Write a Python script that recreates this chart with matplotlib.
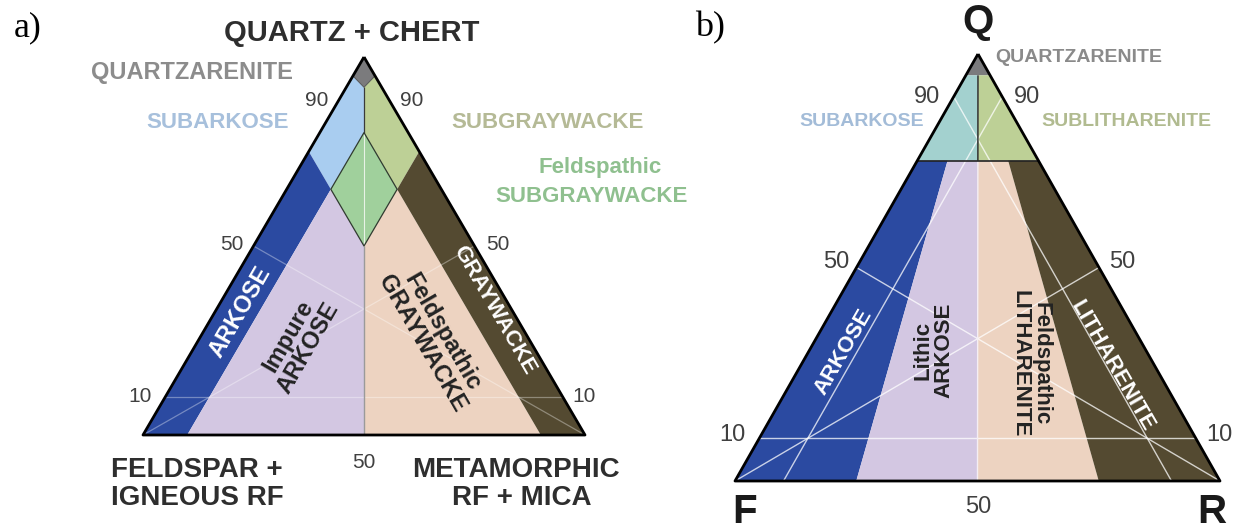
import numpy as np
import matplotlib
matplotlib.use("Agg")
import matplotlib.pyplot as plt
from matplotlib.patches import Polygon

plt.rcParams['font.family'] = ['Liberation Sans', 'DejaVu Sans']

# ---- classification fields, (Q, F, R) in percent ----
# a) quartz+chert / feldspar+igneous RF / metamorphic RF+mica
a_quartzarenite = [(100, 0, 0), (95, 5, 0), (92, 4, 4), (95, 0, 5)]
a_subarkose = [(95, 5, 0), (75, 25, 0), (65, 25, 10), (80, 10, 10), (92, 4, 4)]
a_subgraywacke = [(95, 0, 5), (75, 0, 25), (65, 10, 25), (80, 10, 10), (92, 4, 4)]
a_feld_subgraywacke = [(80, 10, 10), (65, 25, 10), (50, 25, 25), (65, 10, 25)]
a_arkose = [(75, 25, 0), (0, 100, 0), (0, 90, 10), (65, 25, 10)]
a_impure_arkose = [(65, 25, 10), (0, 90, 10), (0, 50, 50), (50, 25, 25)]
a_feld_graywacke = [(65, 10, 25), (50, 25, 25), (0, 50, 50), (0, 10, 90)]
a_graywacke = [(75, 0, 25), (65, 10, 25), (0, 10, 90), (0, 0, 100)]

# b) Q / F / R
b_quartzarenite = [(100, 0, 0), (95, 5, 0), (95, 0, 5)]
b_subarkose = [(95, 5, 0), (75, 25, 0), (75, 12.5, 12.5), (95, 2.5, 2.5)]
b_sublitharenite = [(95, 0, 5), (75, 0, 25), (75, 12.5, 12.5), (95, 2.5, 2.5)]
b_arkose = [(75, 25, 0), (0, 100, 0), (0, 75, 25), (75, 18.75, 6.25)]
b_lithic_arkose = [(75, 18.75, 6.25), (0, 75, 25), (0, 50, 50), (75, 12.5, 12.5)]
b_feld_litharenite = [(75, 12.5, 12.5), (0, 50, 50), (0, 25, 75), (75, 6.25, 18.75)]
b_litharenite = [(75, 6.25, 18.75), (0, 25, 75), (0, 0, 100), (75, 0, 25)]

tick_labels = ['90', '50', '10']

# triangle corners on the page (Q top, F left, R right)
A_TRI = [(364, 57), (143, 435), (585, 435)]
B_TRI = [(978, 54), (735, 481), (1220, 481)]

C_GRAY = '#7b7b7d'
C_LBLUE = '#a9cdf0'
C_TEAL = '#a3d1cf'
C_OLIVE = '#bdd096'
C_GREEN = '#a0d09c'
C_DBLUE = '#2b4aa1'
C_LAV = '#d3c7e2'
C_PEACH = '#edd3c1'
C_BROWN = '#544a31'


def tern(pts, tri):
    p = np.asarray(pts, dtype=float) / 100.0
    t = np.asarray(tri, dtype=float)
    return p @ t


def field(ax, pts, tri, color):
    ax.add_patch(Polygon(tern(pts, tri), closed=True, facecolor=color,
                         edgecolor='none', zorder=1))


def seg(ax, pts, tri, **kw):
    xy = tern(pts, tri)
    ax.plot(xy[:, 0], xy[:, 1], solid_capstyle='butt', **kw)


fig = plt.figure(figsize=(12.36, 5.31), dpi=100)
ax = fig.add_axes([0, 0, 1, 1])
ax.set_xlim(0, 1236)
ax.set_ylim(531, 0)
ax.axis('off')

# ---------------- panel a ----------------
for pts, c in [(a_quartzarenite, C_GRAY), (a_subarkose, C_LBLUE),
               (a_subgraywacke, C_OLIVE), (a_feld_subgraywacke, C_GREEN),
               (a_arkose, C_DBLUE), (a_impure_arkose, C_LAV),
               (a_feld_graywacke, C_PEACH), (a_graywacke, C_BROWN)]:
    field(ax, pts, A_TRI, c)

wl = dict(color='white', lw=0.9, alpha=0.35, zorder=2)
seg(ax, [(10, 90, 0), (10, 0, 90)], A_TRI, **wl)
seg(ax, [(50, 50, 0), (0, 0, 100)], A_TRI, **wl)
seg(ax, [(50, 0, 50), (0, 100, 0)], A_TRI, **wl)
seg(ax, [(92, 4, 4), (80, 10, 10)], A_TRI, color='#3a3a3a', lw=0.9, zorder=3)
seg(ax, [(80, 10, 10), (50, 25, 25)], A_TRI, color='#e8f2e6', lw=0.8, zorder=3)
seg(ax, [(50, 25, 25), (0, 50, 50)], A_TRI, color='#9a9a9a', lw=1.0, zorder=3)
dl = dict(color='#2f3a2f', lw=0.9, zorder=3)
seg(ax, [(80, 10, 10), (65, 25, 10), (50, 25, 25), (65, 10, 25), (80, 10, 10)], A_TRI, **dl)
seg(ax, [(95, 5, 0), (92, 4, 4), (95, 0, 5)], A_TRI, color='#555555', lw=0.7, zorder=3)
seg(ax, [(100, 0, 0), (0, 100, 0), (0, 0, 100), (100, 0, 0)], A_TRI,
    color='black', lw=2.0, zorder=4)

# ---------------- panel b ----------------
for pts, c in [(b_quartzarenite, C_GRAY), (b_subarkose, C_TEAL),
               (b_sublitharenite, C_OLIVE), (b_arkose, C_DBLUE),
               (b_lithic_arkose, C_LAV), (b_feld_litharenite, C_PEACH),
               (b_litharenite, C_BROWN)]:
    field(ax, pts, B_TRI, c)

wl = dict(color='white', lw=1.0, alpha=0.75, zorder=2)
seg(ax, [(10, 90, 0), (10, 0, 90)], B_TRI, **wl)
seg(ax, [(90, 10, 0), (0, 10, 90)], B_TRI, **wl)
seg(ax, [(90, 0, 10), (0, 90, 10)], B_TRI, **wl)
seg(ax, [(50, 50, 0), (0, 0, 100)], B_TRI, **wl)
seg(ax, [(50, 0, 50), (0, 100, 0)], B_TRI, **wl)
seg(ax, [(75, 12.5, 12.5), (0, 50, 50)], B_TRI, color='#f4eef4', lw=1.0, zorder=3)
seg(ax, [(95, 2.5, 2.5), (75, 12.5, 12.5)], B_TRI, color='#333333', lw=1.1, zorder=3)
seg(ax, [(75, 25, 0), (75, 0, 25)], B_TRI, color='#222222', lw=1.2, zorder=3)
seg(ax, [(100, 0, 0), (0, 100, 0), (0, 0, 100), (100, 0, 0)], B_TRI,
    color='black', lw=2.0, zorder=4)

# ---------------- text ----------------
serif = ['Liberation Serif', 'DejaVu Serif']
ax.text(28, 28, 'a)', fontsize=26, family=serif, ha='center', va='center')
ax.text(710, 28, 'b)', fontsize=26, family=serif, ha='center', va='center')

dark = '#2e2e2e'
inner = '#232323'
num = '#404040'
bold = dict(fontweight='bold', ha='center', va='center')
two = dict(fontweight='bold', ha='center', va='center',
           multialignment='center', linespacing=1.0)

# panel a labels
ax.text(352, 33, 'QUARTZ + CHERT', fontsize=21, color=dark, **bold)
ax.text(192, 73, 'QUARTZARENITE', fontsize=17, color='#8c8c8c', **bold)
ax.text(218, 122, 'SUBARKOSE', fontsize=16, color='#a7c0dc', **bold)
ax.text(548, 122, 'SUBGRAYWACKE', fontsize=16, color='#b5ba96', **bold)
ax.text(600, 168, 'Feldspathic', fontsize=16, color='#8fc08f', **bold)
ax.text(592, 196, 'SUBGRAYWACKE', fontsize=16, color='#8fc08f', **bold)
ax.text(197, 470, 'FELDSPAR +', fontsize=20, color=dark, **bold)
ax.text(197, 498, 'IGNEOUS RF', fontsize=20, color=dark, **bold)
ax.text(516, 470, 'METAMORPHIC', fontsize=20, color=dark, **bold)
ax.text(522, 498, 'RF + MICA', fontsize=20, color=dark, **bold)

nk = dict(fontsize=15, color=num, ha='center', va='center')
ax.text(317, 100, tick_labels[0], **nk)
ax.text(412, 100, tick_labels[0], **nk)
ax.text(232, 244, tick_labels[1], **nk)
ax.text(498, 244, tick_labels[1], **nk)
ax.text(140, 397, tick_labels[2], **nk)
ax.text(584, 397, tick_labels[2], **nk)
ax.text(364, 462, tick_labels[1], **nk)

ax.text(240, 312, 'ARKOSE', fontsize=17, color='white', rotation=60, **bold)
ax.text(494, 310, 'GRAYWACKE', fontsize=16, color='white', rotation=-60, **bold)
ax.text(298, 342, 'Impure\nARKOSE', fontsize=17, color=inner, rotation=60, **two)
ax.text(432, 338, 'Feldspathic\nGRAYWACKE', fontsize=17, color=inner,
        rotation=-60, **two)

# panel b labels
ax.text(978, 22, 'Q', fontsize=29, color='#1a1a1a', **bold)
ax.text(745, 512, 'F', fontsize=29, color='#1a1a1a', **bold)
ax.text(1212, 512, 'R', fontsize=29, color='#1a1a1a', **bold)
ax.text(995, 57, 'QUARTZARENITE', fontsize=14, color='#8a8a8a',
        fontweight='bold', ha='left', va='center')
ax.text(862, 122, 'SUBARKOSE', fontsize=14, color='#a3bcd8', **bold)
ax.text(1126, 122, 'SUBLITHARENITE', fontsize=14, color='#b1bb90', **bold)

nk = dict(fontsize=17, color=num, ha='center', va='center')
ax.text(927, 97, tick_labels[0], **nk)
ax.text(1027, 97, tick_labels[0], **nk)
ax.text(836, 262, tick_labels[1], **nk)
ax.text(1122, 262, tick_labels[1], **nk)
ax.text(732, 435, tick_labels[2], **nk)
ax.text(1219, 435, tick_labels[2], **nk)
ax.text(978, 507, tick_labels[1], **nk)

ax.text(844, 352, 'ARKOSE', fontsize=16, color='white', rotation=60, **bold)
ax.text(1112, 366, 'LITHARENITE', fontsize=16, color='white', rotation=-60, **bold)
ax.text(933, 350, 'Lithic\nARKOSE', fontsize=16, color=inner, rotation=90, **two)
ax.text(1031, 364, 'Feldspathic\nLITHARENITE', fontsize=16, color=inner,
        rotation=-90, **two)

fig.savefig('out.png', dpi=100)
